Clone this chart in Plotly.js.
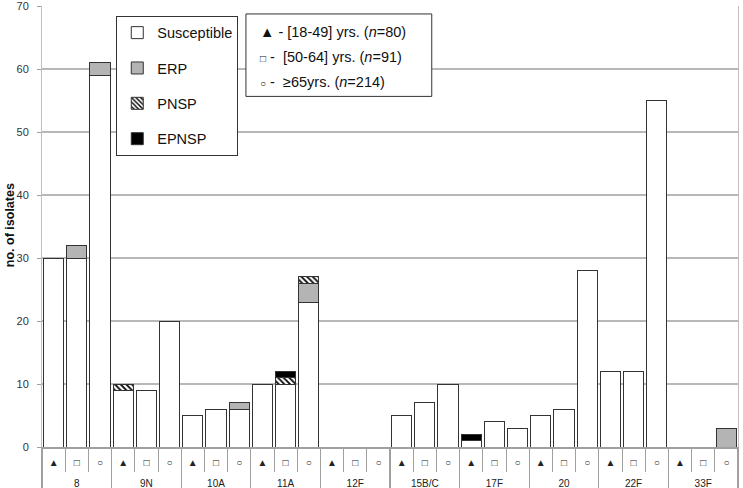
<!DOCTYPE html>
<html>
<head>
<meta charset="utf-8">
<script src="https://cdn.plot.ly/plotly-3.0.1.min.js"></script>
<style>
  html, body { margin: 0; padding: 0; background: #fff; }
  #chart { width: 743px; height: 488px; }
</style>
</head>
<body>
<div id="chart"></div>
<script>
// serotypes and age groups (x axis)
const serotypes = ['8', '9N', '10A', '11A', '12F', '15B/C', '17F', '20', '22F', '33F'];
const ageGroups = ['▲', '□', '○'];

// counts per serotype, age groups in order ▲ □ ○
const susceptible = [30, 30, 59,  9, 9, 20,  5, 6, 6,  10, 10, 23,  0, 0, 0,  5, 7, 10,  1, 4, 3,  5, 6, 28,  12, 12, 55,  0, 0, 0];
const erp         = [ 0,  2,  2,  0, 0,  0,  0, 0, 1,   0,  0,  3,  0, 0, 0,  0, 0,  0,  0, 0, 0,  0, 0,  0,   0,  0,  0,  0, 0, 3];
const pnsp        = [ 0,  0,  0,  1, 0,  0,  0, 0, 0,   0,  1,  1,  0, 0, 0,  0, 0,  0,  0, 0, 0,  0, 0,  0,   0,  0,  0,  0, 0, 0];
const epnsp       = [ 0,  0,  0,  0, 0,  0,  0, 0, 0,   0,  1,  0,  0, 0, 0,  0, 0,  0,  1, 0, 0,  0, 0,  0,   0,  0,  0,  0, 0, 0];

const ageLegend = [
    '▲ - [18-49] yrs. (<i>n</i>=80)',
    '<span style="font-size:10px">□</span> -  [50-64] yrs. (<i>n</i>=91)',
    '<span style="font-size:10px">○</span> -  ≥65yrs. (<i>n</i>=214)'
];

// multicategory x: [serotype, age group]; the <br> drops the serotype row lower
const xGroup = [];
const xAge = [];
serotypes.forEach(s => {
    ageGroups.forEach(a => {
        xGroup.push('<br>' + s);
        xAge.push(a);
    });
});

function makeBar(name, values, fill, pattern) {
    const marker = { color: fill, line: { color: '#333', width: 1 } };
    if (pattern) marker.pattern = pattern;
    return {
        type: 'bar',
        name: name,
        legendgroup: name,
        x: [xGroup, xAge],
        y: values.map(v => v || null),
        marker: marker,
        hoverinfo: 'none'
    };
}

const data = [
    makeBar('Susceptible', susceptible, '#ffffff'),
    makeBar('ERP', erp, '#b4b4b4'),
    makeBar('PNSP', pnsp, '#ffffff', { shape: '\\', fgcolor: '#000', bgcolor: '#fff', size: 4, solidity: 0.45 }),
    makeBar('EPNSP', epnsp, '#000000')
];

const annotations = ageLegend.map((t, i) => ({
    xref: 'paper', yref: 'paper',
    x: 0.31, y: 0.941 - i * 0.057,
    xanchor: 'left', yanchor: 'middle',
    text: t,
    showarrow: false,
    font: { family: 'Liberation Sans, Arial', size: 14.5, color: '#111' }
}));

// y axis title
annotations.push({
    xref: 'paper', yref: 'paper',
    x: -0.046, y: 0.503,
    xanchor: 'center', yanchor: 'middle',
    textangle: -90,
    text: '<b>no. of isolates</b>',
    showarrow: false,
    font: { family: 'Liberation Sans, Arial', size: 12.5, color: '#111' }
});

const layout = {
    width: 743,
    height: 488,
    margin: { l: 42, r: 5, t: 6, b: 41 },
    paper_bgcolor: '#fff',
    plot_bgcolor: '#fff',
    barmode: 'stack',
    bargap: 0.13,
    font: { family: 'Liberation Sans, Arial', color: '#222' },
    xaxis: {
        type: 'multicategory',
        showgrid: false,
        showline: true,
        linecolor: '#a0a0a0',
        linewidth: 1.5,
        ticks: 'outside',
        tickson: 'boundaries',
        ticklen: 23,
        tickcolor: '#a0a0a0',
        tickwidth: 1,
        tickfont: { size: 10, color: '#222' },
        ticklabelstandoff: 5,
        showdividers: true,
        dividercolor: '#a0a0a0',
        dividerwidth: 1.2,
        fixedrange: true
    },
    yaxis: {
        range: [0, 70],
        dtick: 10,
        showgrid: true,
        gridcolor: '#b8b8b8',
        gridwidth: 1.5,
        zeroline: false,
        showline: true,
        mirror: true,
        linecolor: '#c0c0c0',
        linewidth: 1,
        ticks: 'outside',
        ticklen: 4,
        tickcolor: '#a0a0a0',
        tickfont: { size: 11, color: '#333' },
        ticklabelstandoff: 6,
        ticklabeloverflow: 'allow',
        fixedrange: true
    },
    showlegend: true,
    legend: {
        x: 0.282, xanchor: 'right',
        y: 0.978, yanchor: 'top',
        bgcolor: '#fff',
        bordercolor: '#333',
        borderwidth: 1,
        traceorder: 'grouped',
        tracegroupgap: 13.5,
        itemwidth: 30,
        font: { size: 14.5, color: '#111' }
    },
    shapes: [{
        type: 'rect',
        xref: 'paper', yref: 'paper',
        x0: 0.293, x1: 0.560,
        y0: 0.795, y1: 0.982,
        line: { color: '#333', width: 1 },
        fillcolor: '#fff',
        layer: 'above'
    }],
    annotations: annotations
};

Plotly.newPlot('chart', data, layout, { displayModeBar: false, staticPlot: true });
</script>
</body>
</html>
